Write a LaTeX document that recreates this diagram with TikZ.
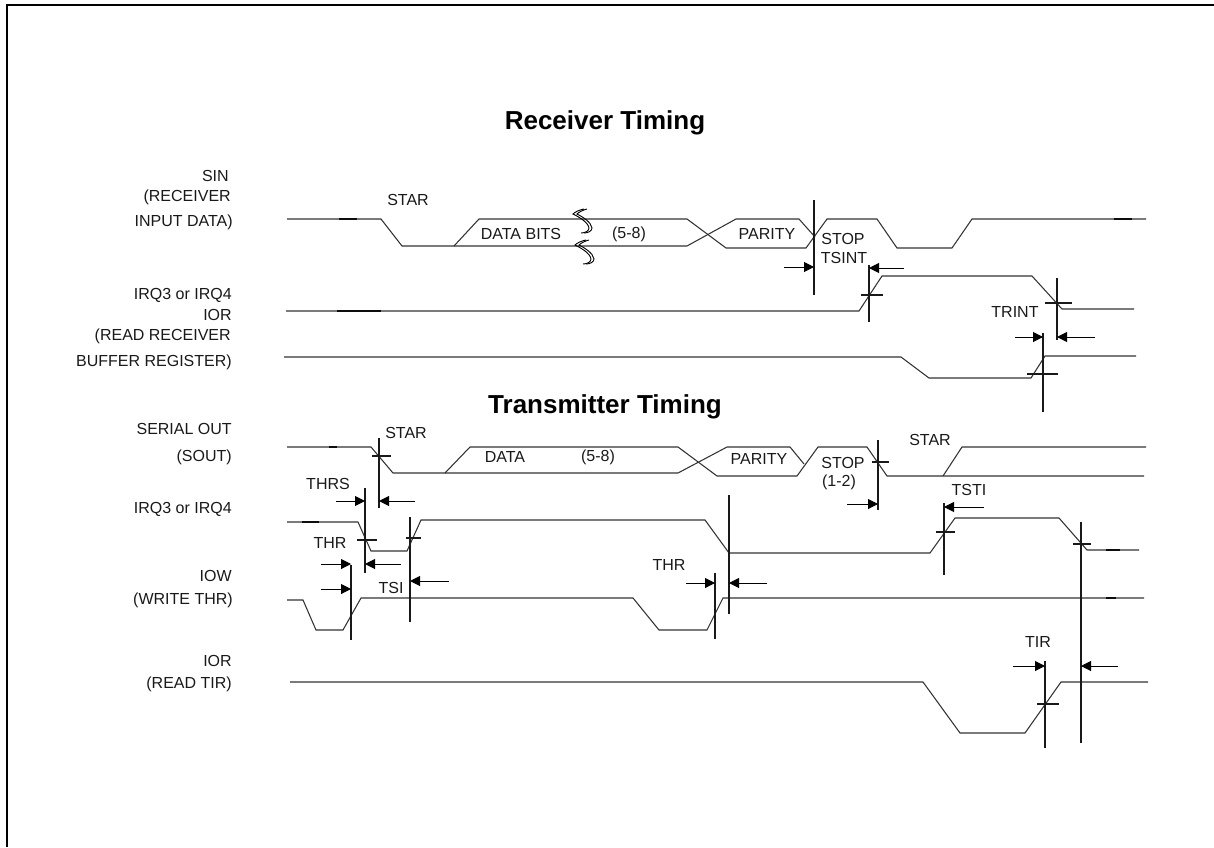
\documentclass[tikz,border=0pt]{standalone}
\usepackage{fontspec}
\setmainfont{Liberation Sans}
\usetikzlibrary{arrows.meta}

\tikzset{
  wave/.style={line width=0.8pt, line join=miter, black!80},
  overlap/.style={line width=0.8pt, black!95},
  guide/.style={line width=0.8pt, black!90},
  timing/.style={line width=0.75pt, -{Triangle[length=7.5pt,width=7.5pt]}},
  lbl/.style={font=\fontsize{12}{14}\selectfont, inner sep=0pt, text=black!90, yshift=-1pt},
  sigl/.style={lbl, anchor=east},
  heading/.style={font=\fontsize{19.5}{23}\bfseries\selectfont, inner sep=0pt, yshift=-1.5pt}
}
\newcommand{\squiggle}[2]{%
  \draw[line width=0.7pt, shift={(#1,#2)}] (11,0) .. controls (6,1) and (2,3) .. (0,5)
    .. controls (6,8) and (15,13) .. (16,19) .. controls (16,22) and (12,24) .. (8,24);
  \draw[line width=0.7pt, shift={(#1,#2)}] (14,0) .. controls (10,1) and (6,3) .. (4,5)
    .. controls (10,8) and (18,13) .. (19,19) .. controls (19,22) and (15,24) .. (11,24);
}

\begin{document}
\begin{tikzpicture}[x=0.75pt, y=-0.75pt]
  \useasboundingbox (0,0) rectangle (1214,847);

  % frame
  \draw[line width=1.7pt] (7,847) -- (7,5) -- (1214,5);

  \node[heading] (rxtitle) at (605,121) {Receiver Timing};
  \node[heading] (txtitle) at (605,405) {Transmitter Timing};

  % receiver signal names
  \node[sigl] (sin) at (229,175) {SIN};
  \node[sigl] (rxin) at (231,196) {(RECEIVER};
  \node[sigl] (rxdata) at (233,221) {INPUT DATA)};
  \node[sigl] (rxirq) at (232,294) {IRQ3 or IRQ4};
  \node[sigl] (rxior) at (232,314) {IOR};
  \node[sigl] (rxread) at (231,335) {(READ RECEIVER};
  \node[sigl] (rxbuf) at (232,361) {BUFFER REGISTER)};

  % SIN
  \draw[wave] (287,219) -- (381,219) -- (402,246) -- (454,246) -- (479,219) -- (687,219)
    -- (726,248) -- (806,248) -- (827,219) -- (877,219) -- (897,248) -- (952,248)
    -- (972,219) -- (1146,219);
  \draw[wave] (454,246) -- (687,246) -- (736,219) -- (799,219) -- (815,237);
  \draw[overlap] (339,219) -- (357,219);
  \draw[overlap] (1114,219) -- (1132,219);
  \squiggle{573}{209}
  \squiggle{575}{240}

  \node[lbl] (rxstar) at (408,199) {STAR};
  \node[lbl] (rxbits) at (521,233) {DATA BITS};
  \node[lbl] (rxcount) at (629,233) {(5-8)};
  \node[lbl] (rxparity) at (767,233) {PARITY};
  \node[lbl] (rxstop) at (843,238) {STOP};
  \node[lbl] (tsint) at (844,257) {TSINT};
  \node[lbl] (trint) at (1015,311) {TRINT};

  % IRQ, IOR
  \draw[wave] (286,311) -- (859,311) -- (882,276) -- (1032,276) -- (1062,309) -- (1134,309);
  \draw[wave] (284,357) -- (901,357) -- (929,378) -- (1031,378) -- (1045,356) -- (1136,356);
  \draw[overlap] (337,311) -- (381,311);

  \draw[guide] (814,200) -- (814,295);
  \draw[guide] (869,265) -- (869,322);
  \draw[guide] (861,295) -- (883,295);
  \draw[guide] (1057,278) -- (1057,340);
  \draw[guide] (1045,303) -- (1072,303);
  \draw[guide] (1043,333) -- (1043,412);
  \draw[guide] (1027,374) -- (1058,374);

  \draw[timing] (784,267) -- (814,267);
  \draw[timing] (904,268) -- (869,268);
  \draw[timing] (1015,337) -- (1043,337);
  \draw[timing] (1095,337) -- (1057,337);

  % transmitter signal names
  \node[sigl] (sout) at (232,428) {SERIAL OUT};
  \node[sigl] (soutb) at (232,456) {(SOUT)};
  \node[sigl] (txirq) at (232,508) {IRQ3 or IRQ4};
  \node[sigl] (iow) at (232,575) {IOW};
  \node[sigl] (iowb) at (233,599) {(WRITE THR)};
  \node[sigl] (txior) at (232,660) {IOR};
  \node[sigl] (txiorb) at (232,683) {(READ TIR)};

  % SOUT
  \draw[wave] (287,447) -- (371,447) -- (393,473) -- (445,473) -- (470,447) -- (678,447)
    -- (717,476) -- (797,476) -- (818,447) -- (867,447) -- (887,476) -- (1144,476);
  \draw[wave] (445,473) -- (678,473) -- (727,447) -- (790,447) -- (804,464);
  \draw[wave] (943,476) -- (962,447) -- (1146,447);
  \draw[overlap] (329,447) -- (337,447);

  \node[lbl] (txstar) at (406,432) {STAR};
  \node[lbl] (txbits) at (505,456) {DATA};
  \node[lbl] (txcount) at (598,456) {(5-8)};
  \node[lbl] (txparity) at (759,458) {PARITY};
  \node[lbl] (txstop) at (843,462) {STOP};
  \node[lbl] (txstopn) at (839,481) {(1-2)};
  \node[lbl] (txstarb) at (930,439) {STAR};
  \node[lbl] (thrs) at (328,483) {THRS};
  \node[lbl] (thra) at (330,542) {THR};
  \node[lbl] (tsi) at (391,587) {TSI};
  \node[lbl] (thrb) at (669,564) {THR};
  \node[lbl] (tsti) at (969,489) {TSTI};
  \node[lbl] (tir) at (1038,641) {TIR};

  % IRQ, IOW, IOR
  \draw[wave] (287,522) -- (358,522) -- (371,551) -- (407,551) -- (421,520) -- (705,520)
    -- (729,553) -- (930,553) -- (955,518) -- (1059,518) -- (1087,550) -- (1139,550);
  \draw[wave] (287,600) -- (303,600) -- (316,630) -- (343,630) -- (361,598) -- (633,598)
    -- (659,630) -- (707,630) -- (723,598) -- (1144,598);
  \draw[wave] (290,682) -- (923,682) -- (960,733) -- (1025,733) -- (1061,682) -- (1148,682);
  \draw[overlap] (302,522) -- (319,522);
  \draw[overlap] (1106,550) -- (1120,550);
  \draw[overlap] (1106,598) -- (1116,598);

  \draw[guide] (379,438) -- (379,508);
  \draw[guide] (372,456) -- (391,456);
  \draw[guide] (365,488) -- (365,573);
  \draw[guide] (357,540) -- (377,540);
  \draw[guide] (351,565) -- (351,640);
  \draw[guide] (410,517) -- (410,622);
  \draw[guide] (406,538) -- (421,538);
  \draw[guide] (715,573) -- (715,639);
  \draw[guide] (729,495) -- (729,614);
  \draw[guide] (878,440) -- (878,510);
  \draw[guide] (872,462) -- (889,462);
  \draw[guide] (944,503) -- (944,575);
  \draw[guide] (936,532) -- (955,532);
  \draw[guide] (1081,522) -- (1081,743);
  \draw[guide] (1073,544) -- (1091,544);
  \draw[guide] (1045,661) -- (1045,748);
  \draw[guide] (1037,704) -- (1059,704);

  \draw[timing] (336,501) -- (365,501);
  \draw[timing] (415,501) -- (379,501);
  \draw[timing] (401,564) -- (365,564);
  \draw[timing] (321,564) -- (351,564);
  \draw[timing] (321,589) -- (351,589);
  \draw[timing] (449,581) -- (410,581);
  \draw[timing] (686,583) -- (715,583);
  \draw[timing] (767,583) -- (729,583);
  \draw[timing] (847,504) -- (878,504);
  \draw[timing] (984,507) -- (944,507);
  \draw[timing] (1013,666) -- (1045,666);
  \draw[timing] (1118,666) -- (1081,666);
\end{tikzpicture}
\end{document}
